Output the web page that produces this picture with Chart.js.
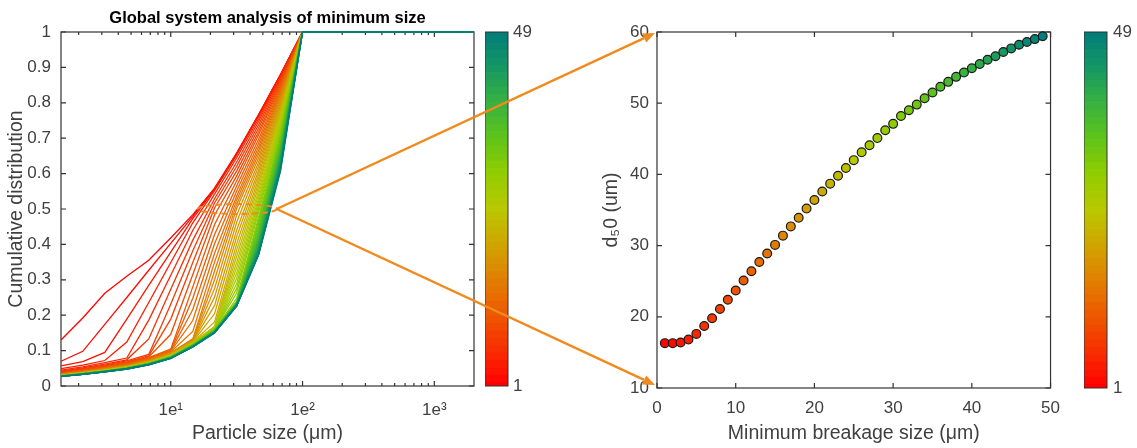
<!DOCTYPE html>
<html>
<head>
<meta charset="utf-8">
<script src="https://cdn.jsdelivr.net/npm/chart.js@4.4.1/dist/chart.umd.min.js"></script>
<style>
  body { margin: 0; background: #fff; }
  #wrap { position: relative; width: 1137px; height: 448px; overflow: hidden; }
  #wrap canvas { position: absolute; top: 0; }
  #links { z-index: 10; pointer-events: none; }
</style>
</head>
<body>
<div id="wrap">
  <canvas id="curves" style="left:0px" width="480" height="448"></canvas>
  <canvas id="barLeft" style="left:485px" width="52" height="448"></canvas>
  <canvas id="d50plot" style="left:590px" width="480" height="448"></canvas>
  <canvas id="barRight" style="left:1084px" width="53" height="448"></canvas>
  <canvas id="links" style="left:0px" width="1137" height="448"></canvas>
</div>
<script>
// ---- data ----
const particleSize = [1.47, 2.15, 3.16, 4.64, 6.81, 10, 14.7, 21.5, 31.6, 46.4, 68.1, 100, 2000];

// one row per minimum breakage size (1..49), cumulative fraction at each particle size
const cumulative = [
  [0.130,0.192,0.262,0.310,0.355,0.418,0.484,0.558,0.657,0.766,0.880,1,1],
  [0.070,0.098,0.174,0.250,0.327,0.403,0.479,0.558,0.657,0.766,0.880,1,1],
  [0.057,0.069,0.095,0.189,0.284,0.378,0.473,0.556,0.656,0.765,0.880,1,1],
  [0.049,0.059,0.072,0.124,0.236,0.349,0.461,0.552,0.652,0.762,0.878,1,1],
  [0.045,0.054,0.066,0.079,0.186,0.313,0.440,0.542,0.644,0.755,0.875,1,1],
  [0.042,0.051,0.062,0.074,0.133,0.273,0.412,0.529,0.632,0.747,0.871,1,1],
  [0.040,0.049,0.059,0.071,0.089,0.231,0.382,0.517,0.620,0.738,0.866,1,1],
  [0.038,0.047,0.057,0.068,0.085,0.189,0.349,0.503,0.607,0.728,0.861,1,1],
  [0.037,0.045,0.055,0.066,0.082,0.146,0.315,0.483,0.593,0.718,0.855,1,1],
  [0.036,0.044,0.053,0.064,0.080,0.104,0.280,0.456,0.579,0.709,0.850,1,1],
  [0.035,0.043,0.052,0.062,0.078,0.101,0.248,0.428,0.564,0.697,0.844,1,1],
  [0.034,0.042,0.051,0.061,0.076,0.099,0.216,0.402,0.550,0.686,0.838,1,1],
  [0.034,0.041,0.050,0.060,0.075,0.098,0.185,0.375,0.536,0.675,0.833,1,1],
  [0.033,0.041,0.049,0.059,0.074,0.096,0.154,0.350,0.525,0.665,0.827,1,1],
  [0.033,0.040,0.048,0.058,0.073,0.094,0.133,0.325,0.513,0.655,0.821,1,1],
  [0.032,0.039,0.048,0.057,0.071,0.093,0.131,0.300,0.501,0.644,0.815,1,1],
  [0.032,0.039,0.047,0.056,0.070,0.091,0.129,0.275,0.482,0.632,0.809,1,1],
  [0.031,0.038,0.046,0.056,0.070,0.090,0.128,0.251,0.462,0.621,0.802,1,1],
  [0.031,0.038,0.046,0.055,0.069,0.090,0.127,0.227,0.440,0.609,0.795,1,1],
  [0.031,0.038,0.046,0.055,0.068,0.089,0.125,0.204,0.421,0.598,0.789,1,1],
  [0.031,0.037,0.045,0.054,0.068,0.088,0.124,0.181,0.401,0.586,0.782,1,1],
  [0.030,0.037,0.045,0.054,0.067,0.087,0.123,0.168,0.383,0.575,0.776,1,1],
  [0.030,0.037,0.044,0.053,0.067,0.087,0.122,0.167,0.366,0.564,0.769,1,1],
  [0.030,0.036,0.044,0.053,0.066,0.086,0.121,0.165,0.349,0.552,0.762,1,1],
  [0.030,0.036,0.044,0.053,0.066,0.085,0.120,0.164,0.334,0.541,0.755,1,1],
  [0.029,0.036,0.044,0.052,0.065,0.085,0.120,0.164,0.319,0.530,0.748,1,1],
  [0.029,0.036,0.043,0.052,0.065,0.085,0.119,0.163,0.304,0.521,0.741,1,1],
  [0.029,0.036,0.043,0.052,0.065,0.084,0.119,0.162,0.289,0.511,0.734,1,1],
  [0.029,0.035,0.043,0.052,0.065,0.084,0.118,0.161,0.275,0.501,0.727,1,1],
  [0.029,0.035,0.043,0.051,0.064,0.083,0.118,0.161,0.262,0.491,0.720,1,1],
  [0.029,0.035,0.043,0.051,0.064,0.083,0.117,0.160,0.247,0.477,0.712,1,1],
  [0.029,0.035,0.042,0.051,0.064,0.083,0.117,0.159,0.239,0.467,0.706,1,1],
  [0.028,0.035,0.042,0.051,0.063,0.082,0.116,0.158,0.237,0.458,0.700,1,1],
  [0.028,0.035,0.042,0.050,0.063,0.082,0.116,0.158,0.236,0.448,0.692,1,1],
  [0.028,0.035,0.042,0.050,0.063,0.082,0.115,0.157,0.235,0.440,0.685,1,1],
  [0.028,0.034,0.042,0.050,0.063,0.081,0.115,0.156,0.234,0.432,0.678,1,1],
  [0.028,0.034,0.042,0.050,0.062,0.081,0.114,0.156,0.234,0.424,0.672,1,1],
  [0.028,0.034,0.041,0.050,0.062,0.081,0.114,0.155,0.233,0.417,0.666,1,1],
  [0.028,0.034,0.041,0.049,0.062,0.080,0.113,0.155,0.232,0.411,0.660,1,1],
  [0.028,0.034,0.041,0.049,0.062,0.080,0.113,0.154,0.231,0.406,0.655,1,1],
  [0.028,0.034,0.041,0.049,0.061,0.080,0.113,0.154,0.230,0.400,0.649,1,1],
  [0.028,0.034,0.041,0.049,0.061,0.080,0.112,0.153,0.230,0.395,0.643,1,1],
  [0.027,0.034,0.041,0.049,0.061,0.079,0.112,0.153,0.229,0.390,0.638,1,1],
  [0.027,0.033,0.041,0.049,0.061,0.079,0.112,0.152,0.228,0.385,0.631,1,1],
  [0.027,0.033,0.040,0.049,0.061,0.079,0.111,0.152,0.228,0.380,0.626,1,1],
  [0.027,0.033,0.040,0.048,0.061,0.079,0.111,0.151,0.227,0.375,0.621,1,1],
  [0.027,0.033,0.040,0.048,0.060,0.078,0.111,0.151,0.226,0.372,0.617,1,1],
  [0.027,0.033,0.040,0.048,0.060,0.078,0.110,0.150,0.226,0.371,0.612,1,1],
  [0.027,0.033,0.040,0.048,0.060,0.078,0.110,0.150,0.225,0.370,0.607,1,1]
];

const minBreakSize = [1,2,3,4,5,6,7,8,9,10,11,12,13,14,15,16,17,18,19,20,21,22,23,24,25,
  26,27,28,29,30,31,32,33,34,35,36,37,38,39,40,41,42,43,44,45,46,47,48,49];
const d50 = [16.3,16.3,16.4,16.8,17.6,18.7,19.8,21.1,22.4,23.7,25.1,26.4,27.7,28.9,30.1,
  31.4,32.7,33.9,35.2,36.4,37.6,38.7,39.8,40.9,42.0,43.1,44.1,45.1,46.2,47.1,48.2,49.0,
  49.8,50.7,51.5,52.3,53.0,53.7,54.3,54.9,55.5,56.1,56.6,57.2,57.7,58.2,58.6,59.0,59.4];

const majorTicks = [10, 100, 1000];
const majorTickLabels = ['1e\u00B9', '1e\u00B2', '1e\u00B3'];
const colorbarTicks = [1, 49];

// ---- look ----
const FONT = "'Liberation Sans', Arial, Helvetica, sans-serif";
const INK = '#404040';
const BOX = '#333333';
const ORANGE = '#f08a1c';
const X_MIN = 1.47, X_MAX = 2000;

const colourStops = [
  [0, [255, 0, 0]], [0.1, [248, 45, 0]], [0.25, [232, 108, 0]], [0.4, [208, 165, 0]],
  [0.5, [185, 200, 0]], [0.6, [145, 205, 0]], [0.7, [95, 195, 25]], [0.8, [55, 178, 65]],
  [0.9, [22, 150, 100]], [1, [0, 125, 122]]
];
function colourAt(t) {
  for (let i = 1; i < colourStops.length; i++) {
    const [t1, c1] = colourStops[i];
    const [t0, c0] = colourStops[i - 1];
    if (t <= t1) {
      const f = (t - t0) / (t1 - t0);
      const c = c0.map((v, k) => Math.round(v + (c1[k] - v) * f));
      return `rgb(${c[0]},${c[1]},${c[2]})`;
    }
  }
  return 'rgb(0,125,122)';
}
const seriesColour = i => colourAt(i / (minBreakSize.length - 1));

// log tick positions (major + minor) inside the axis range
const logTicks = [];
for (let p = 0; p <= 3; p++) {
  for (let m = 1; m <= 9; m++) {
    const v = m * Math.pow(10, p);
    if (v > X_MIN && v < X_MAX) logTicks.push(v);
  }
}

// box round the plot area with MATLAB style inward ticks
const boxTicks = {
  id: 'boxTicks',
  beforeDatasetsDraw(chart) {
    const { ctx, chartArea: a } = chart;
    ctx.save();
    ctx.strokeStyle = BOX;
    ctx.lineWidth = 1.2;
    ctx.beginPath();
    ['x', 'y'].forEach(id => {
      const s = chart.scales[id];
      s.ticks.forEach(t => {
        const p = s.getPixelForValue(t.value);
        const len = (s.type === 'logarithmic' && !t.major) ? 3 : 5;
        if (id === 'x') {
          ctx.moveTo(p, a.bottom); ctx.lineTo(p, a.bottom - len);
          ctx.moveTo(p, a.top); ctx.lineTo(p, a.top + len);
        } else {
          ctx.moveTo(a.left, p); ctx.lineTo(a.left + len, p);
          ctx.moveTo(a.right, p); ctx.lineTo(a.right - len, p);
        }
      });
    });
    ctx.stroke();
    ctx.strokeRect(a.left, a.top, a.right - a.left, a.bottom - a.top);
    ctx.restore();
  }
};

const barBox = {
  id: 'barBox',
  afterDatasetsDraw(chart) {
    const { ctx, chartArea: a } = chart;
    ctx.save();
    ctx.strokeStyle = BOX;
    ctx.lineWidth = 1;
    ctx.strokeRect(a.left, a.top, a.right - a.left, a.bottom - a.top);
    ctx.restore();
  }
};

let focusPoint = null;
const focusRing = {
  id: 'focusRing',
  afterDatasetsDraw(chart) {
    const { ctx } = chart;
    const xs = chart.scales.x, ys = chart.scales.y;
    const x1 = xs.getPixelForValue(d50[0]) - 1;
    const x2 = xs.getPixelForValue(d50[d50.length - 1]) + 4;
    const yc = ys.getPixelForValue(0.5);
    const ry = yc - ys.getPixelForValue(0.514);
    ctx.save();
    ctx.setLineDash([6, 4]);
    ctx.strokeStyle = ORANGE;
    ctx.lineWidth = 2;
    ctx.beginPath();
    ctx.ellipse((x1 + x2) / 2, yc, (x2 - x1) / 2, ry, 0, 0, Math.PI * 2);
    ctx.stroke();
    ctx.restore();
    focusPoint = { x: x2 + chart.canvas.offsetLeft, y: yc };
  }
};

const plotTitle = {
  id: 'plotTitle',
  afterDraw(chart) {
    const { ctx, chartArea: a } = chart;
    ctx.save();
    ctx.font = 'bold 16.5px ' + FONT;
    ctx.fillStyle = '#000';
    ctx.textAlign = 'center';
    ctx.textBaseline = 'middle';
    ctx.fillText('Global system analysis of minimum size', (a.left + a.right) / 2, 18);
    ctx.restore();
  }
};

function arrow(ctx, a, b) {
  const ang = Math.atan2(b.y - a.y, b.x - a.x);
  const L = 12, W = 5;
  const bx = b.x - L * Math.cos(ang), by = b.y - L * Math.sin(ang);
  ctx.strokeStyle = ORANGE;
  ctx.fillStyle = ORANGE;
  ctx.lineWidth = 2.4;
  ctx.beginPath();
  ctx.moveTo(a.x, a.y);
  ctx.lineTo(bx, by);
  ctx.stroke();
  ctx.beginPath();
  ctx.moveTo(b.x, b.y);
  ctx.lineTo(bx - W * Math.sin(ang), by + W * Math.cos(ang));
  ctx.lineTo(bx + W * Math.sin(ang), by - W * Math.cos(ang));
  ctx.closePath();
  ctx.fill();
}

function drawLinks(right) {
  if (!focusPoint) return;
  const ov = document.getElementById('links');
  const ctx = ov.getContext('2d');
  ctx.clearRect(0, 0, ov.width, ov.height);
  const xs = right.scales.x, ys = right.scales.y, off = right.canvas.offsetLeft;
  const tipX = xs.getPixelForValue(xs.min) + off - 2;
  arrow(ctx, focusPoint, { x: tipX, y: ys.getPixelForValue(ys.max) + 1 });
  arrow(ctx, focusPoint, { x: tipX, y: ys.getPixelForValue(ys.min) - 3 });
}

const tickFont = { family: FONT, size: 17 };
const titleFont = { family: FONT, size: 19.5 };
const plainNumber = v => String(Math.round(v * 10) / 10);

// ---- left: cumulative distributions ----
const curveSets = cumulative.map((row, i) => ({
  data: row.map((v, j) => ({ x: particleSize[j], y: v })),
  borderColor: seriesColour(i),
  borderWidth: 1.3,
  pointRadius: 0,
  tension: 0,
  order: cumulative.length - 1 - i,
  clip: 3
}));

new Chart(document.getElementById('curves'), {
  type: 'line',
  data: { datasets: curveSets },
  options: {
    responsive: false,
    animation: false,
    layout: { padding: { top: 32, right: 6, left: 0, bottom: 0 } },
    plugins: { legend: { display: false }, tooltip: { enabled: false } },
    scales: {
      x: {
        type: 'logarithmic',
        min: X_MIN, max: X_MAX,
        grid: { display: false, drawTicks: false },
        border: { display: false },
        afterBuildTicks: s => { s.ticks = logTicks.map(v => ({ value: v, major: majorTicks.includes(v) })); },
        afterFit: s => { s.height = 62; },
        ticks: {
          autoSkip: false, maxRotation: 0, padding: 14, color: INK, font: tickFont,
          callback: v => { const k = majorTicks.indexOf(v); return k >= 0 ? majorTickLabels[k] : ''; }
        },
        title: { display: true, text: 'Particle size (\u03BCm)', color: INK, font: titleFont, padding: { top: 0, bottom: 3 } }
      },
      y: {
        min: 0, max: 1,
        grid: { display: false, drawTicks: false },
        border: { display: false },
        afterFit: s => { s.width = 61; },
        ticks: { stepSize: 0.1, padding: 10, color: INK, font: tickFont, callback: plainNumber },
        title: { display: true, text: 'Cumulative distribution', color: INK, font: titleFont, padding: { top: 5, bottom: 0 } }
      }
    }
  },
  plugins: [boxTicks, focusRing, plotTitle]
});

// ---- colour bars ----
function colourBar(id, bottomPad, axisWidth, labelPad) {
  return new Chart(document.getElementById(id), {
    type: 'bar',
    data: {
      labels: [''],
      datasets: minBreakSize.map((m, i) => ({
        data: [[m - 0.5, m + 0.5]],
        backgroundColor: seriesColour(i),
        borderWidth: 0,
        barPercentage: 1,
        categoryPercentage: 1,
        grouped: false
      }))
    },
    options: {
      responsive: false,
      animation: false,
      layout: { padding: { top: 32, bottom: bottomPad, left: 0, right: 0 } },
      plugins: { legend: { display: false }, tooltip: { enabled: false } },
      scales: {
        x: { display: false },
        y: {
          position: 'right',
          min: colorbarTicks[0], max: colorbarTicks[colorbarTicks.length - 1],
          grid: { display: false, drawTicks: false },
          border: { display: false },
          afterBuildTicks: s => { s.ticks = colorbarTicks.map(v => ({ value: v })); },
          afterFit: s => { s.width = axisWidth; },
          ticks: { padding: labelPad, color: INK, font: tickFont }
        }
      }
    },
    plugins: [barBox]
  });
}
colourBar('barLeft', 62, 29, 5);
colourBar('barRight', 60, 30, 6);

// ---- right: d50 against minimum breakage size ----
new Chart(document.getElementById('d50plot'), {
  type: 'scatter',
  data: {
    datasets: [{
      data: minBreakSize.map((m, i) => ({ x: m, y: d50[i] })),
      pointBackgroundColor: minBreakSize.map((m, i) => seriesColour(i)),
      pointBorderColor: '#1a1a1a',
      pointBorderWidth: 1.2,
      pointRadius: 4.4,
      clip: false
    }]
  },
  options: {
    responsive: false,
    animation: false,
    layout: { padding: { top: 32, right: 8, left: 0, bottom: 0 } },
    plugins: { legend: { display: false }, tooltip: { enabled: false } },
    scales: {
      x: {
        min: 0, max: 50,
        grid: { display: false, drawTicks: false },
        border: { display: false },
        afterFit: s => { s.height = 60; },
        ticks: { stepSize: 10, padding: 10, maxRotation: 0, color: INK, font: tickFont },
        title: { display: true, text: 'Minimum breakage size (\u03BCm)', color: INK, font: titleFont, padding: { top: 0, bottom: 3 } }
      },
      y: {
        min: 10, max: 60,
        grid: { display: false, drawTicks: false },
        border: { display: false },
        afterFit: s => { s.width = 67; },
        ticks: { stepSize: 10, padding: 8, color: INK, font: tickFont },
        title: { display: true, text: 'd\u20850 (um)', color: INK, font: titleFont, padding: { top: 10, bottom: 0 } }
      }
    }
  },
  plugins: [boxTicks, { id: 'links', afterRender: chart => drawLinks(chart) }]
});
</script>
</body>
</html>
